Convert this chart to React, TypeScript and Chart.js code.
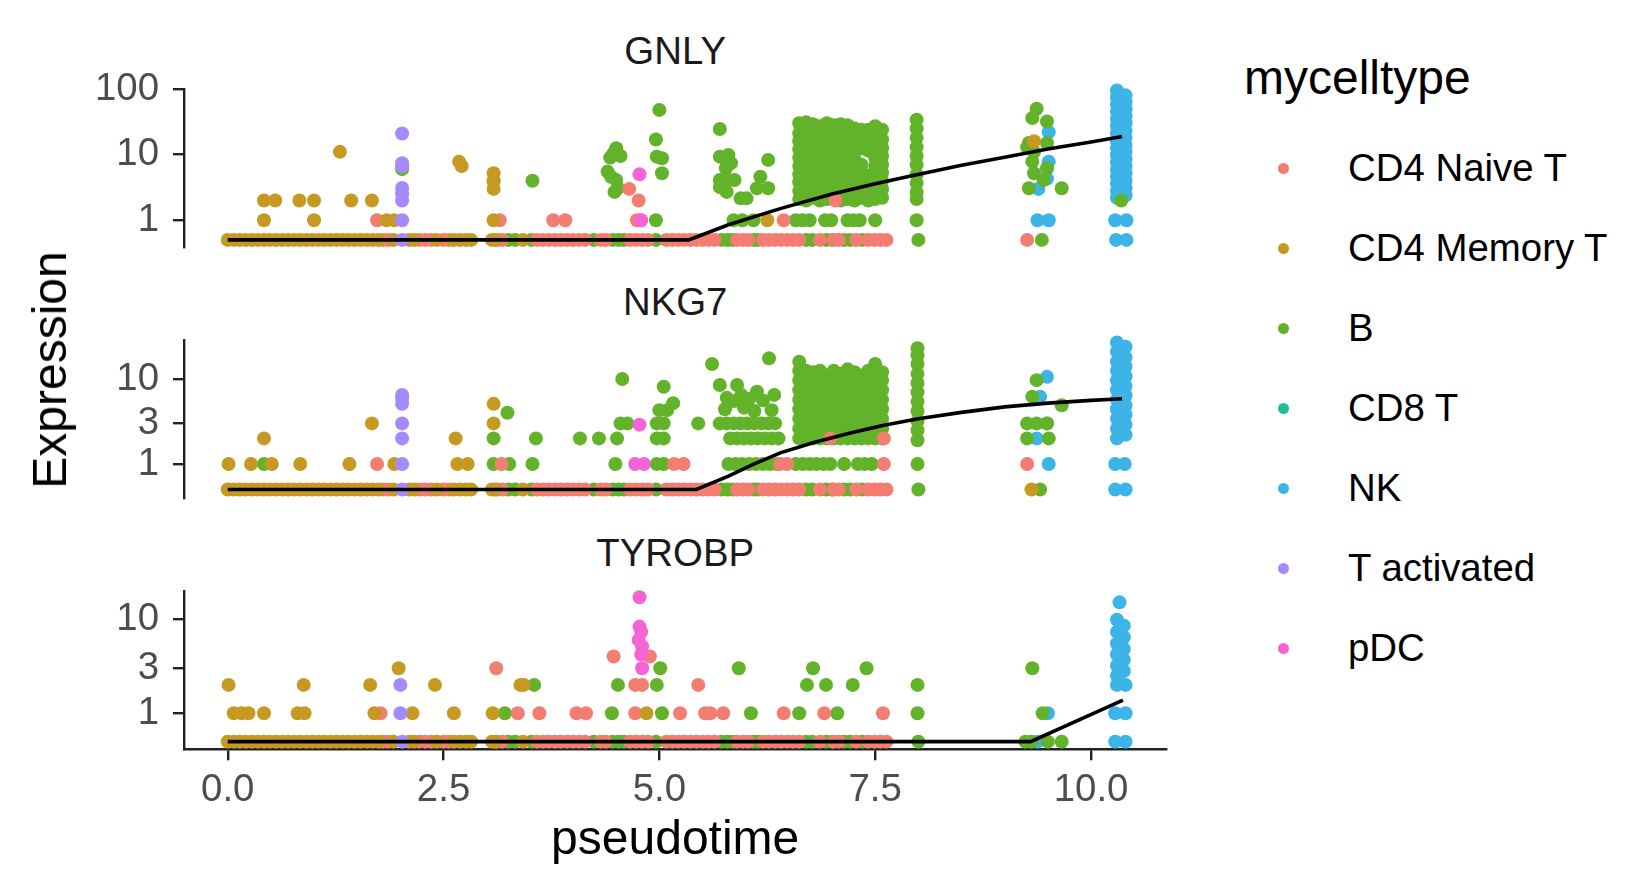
import React, { useEffect, useRef } from "react";
import { Chart, registerables } from "chart.js";

Chart.register(...registerables);

type Pt = [number, number];
type Col = [number, number[]];

// ---------------- categories / colours ----------------
const CELL_TYPES = ["CD4 Naive T", "CD4 Memory T", "B", "CD8 T", "NK", "T activated", "pDC"];
const TYPE_COLORS = ["#F27D70", "#C69A22", "#62B32A", "#1DBF96", "#3DB4E8", "#A58AFF", "#F564D6"];
// painted bottom -> top
const PAINT_ORDER = ["NK", "B", "CD8 T", "CD4 Naive T", "CD4 Memory T", "T activated", "pDC"];
const GENES = ["GNLY", "NKG7", "TYROBP"];
const X_TICKS = [0, 2.5, 5, 7.5, 10];
const Y_TICKS_GNLY = [1, 10, 100];
const Y_TICKS_NKG7 = [1, 3, 10];
const Y_TICKS_TYROBP = [1, 3, 10];
const X_RANGE = [-0.5064, 10.873];
const Y_RANGE_GNLY = [0.39, 100];
const Y_RANGE_NKG7 = [0.394, 28.8];
const Y_RANGE_TYROBP = [0.415, 19.8];
const ZERO_EXPR = 0.5;

// ---------------- zero-expression cells (pseudotime), shared by the genes ----------------
const baseNaiveT = [1.8, 1.86, 2.22, 2.29, 2.36, 2.5, 2.56, 3.12, 3.18, 3.58, 3.65, 3.72, 3.79, 3.86, 3.93, 4.0, 4.07, 4.14, 4.32, 4.38, 4.66, 4.73, 4.8, 4.87, 5.08, 5.15, 5.22, 5.29, 5.36, 5.43, 5.5, 5.57, 5.64, 5.9, 5.97, 6.03, 6.2, 6.27, 6.34, 6.41, 6.48, 6.55, 6.62, 6.86, 7.02, 7.08, 7.28, 7.42, 7.49, 7.56, 7.63];
const baseMemoryT = [0.0, 0.07, 0.14, 0.21, 0.28, 0.35, 0.42, 0.49, 0.56, 0.63, 0.7, 0.77, 0.84, 0.91, 0.98, 1.05, 1.12, 1.19, 1.26, 1.33, 1.4, 1.47, 1.54, 1.61, 1.68, 1.75, 1.92, 2.1, 2.16, 2.42, 2.62, 2.69, 2.76, 2.82, 3.06, 3.1, 3.42];
const baseB = [3.25, 3.33, 3.52, 4.24, 4.46, 4.53, 4.59, 4.96, 5.72, 5.79, 5.85, 6.09, 6.14, 6.7, 6.77, 6.93, 7.0, 7.14, 7.21, 7.35, 8.0];
const baseTact = [2.02];

// ---------------- GNLY ----------------
const gnlyZeroNaive = [9.26];
const gnlyZeroB = [9.43];
const gnlyZeroNK = [10.29, 10.41];
const gnlyNaive: Pt[] = [[1.73, 1], [3.15, 1], [3.77, 1], [3.91, 1], [4.65, 3], [4.76, 2], [4.74, 1], [4.78, 1], [6.44, 1], [7.04, 2]];
const gnlyMemory: Pt[] = [[0.42, 2], [0.55, 2], [0.42, 1], [0.83, 2], [1.0, 2], [1.0, 1], [1.3, 11], [1.43, 2], [1.67, 2], [1.84, 1], [1.93, 1], [2.68, 7.8], [2.71, 6.7], [3.08, 5.2], [3.08, 3.9], [3.08, 3], [3.08, 1], [6.25, 1], [9.34, 16]];
const gnlyTact: Pt[] = [[2.02, 21], [2.02, 7.4], [2.02, 6.6], [2.02, 3.1], [2.02, 2.5], [2.02, 2], [2.02, 1]];
const gnlyPdc: Pt[] = [[4.77, 5], [4.79, 1]];
const gnlyNK: Pt[] = [[9.51, 22], [9.51, 7.8], [9.49, 4.3], [9.39, 3], [9.38, 1], [9.51, 1], [10.28, 1], [10.41, 1]];
const gnlyNKColumns: Col[] = [
  [10.3, [2.2, 2.8, 3.6, 4.6, 5.9, 7.6, 9.8, 12.6, 16, 21, 27, 35, 45, 58, 75, 95]],
  [10.4, [2.4, 3.1, 4, 5.2, 6.7, 8.6, 11, 14, 18, 23, 30, 38, 49, 63, 80]],
];
const gnlyB: Pt[] = [
  [2.02, 6], [3.08, 4], [3.53, 4],
  [4.4, 5.5], [4.43, 9], [4.47, 10.5], [4.5, 12.5], [4.55, 9.5], [4.44, 4.6], [4.5, 4.1], [4.52, 3.1], [4.48, 2.7],
  [4.96, 17], [4.97, 9.3], [5.0, 48], [5.03, 8.8], [5.03, 5.2], [4.96, 1],
  [5.7, 24.5], [5.7, 9.3], [5.8, 9.9], [5.83, 7.4], [5.77, 6.2], [5.7, 4.1], [5.8, 4.1], [5.87, 4.1], [5.7, 3.2], [5.78, 2.7],
  [5.94, 2.15], [6.01, 2.15], [6.13, 3.06], [6.17, 4.6], [6.26, 8.3], [6.26, 3.06], [5.86, 1], [5.96, 1], [6.09, 1],
  [6.58, 1], [6.66, 1], [6.74, 1], [6.92, 1], [6.99, 1], [7.18, 1], [7.25, 1], [7.32, 1], [7.5, 1],
  [9.37, 50], [9.32, 36], [9.49, 32], [9.28, 15], [9.26, 13], [9.49, 15], [9.34, 11], [9.32, 7.8], [9.49, 6.2], [9.34, 5.2], [9.45, 4.1], [9.28, 3.06], [9.66, 3.06],
  [10.35, 2],
];
const gnlyBColumns: Col[] = [
  [6.62, [2.1, 2.8, 3.8, 5, 6.7, 9, 12, 16, 21, 30]],
  [6.7, [2, 2.7, 3.6, 4.8, 6.4, 8.6, 11.5, 15, 20, 26, 31]],
  [6.78, [2.2, 3, 4, 5.3, 7, 9.5, 12.5, 17, 22, 29]],
  [6.86, [2, 2.7, 3.6, 4.8, 6.4, 8.6, 11.5, 15, 20, 27]],
  [6.94, [2.1, 2.8, 3.8, 5, 6.7, 9, 12, 16, 21, 30]],
  [7.02, [2.2, 3, 4, 5.3, 7, 9.5, 12.5, 17, 22, 28]],
  [7.1, [2, 2.7, 3.6, 4.8, 6.4, 8.6, 11.5, 15, 20, 29]],
  [7.18, [2.1, 2.8, 3.8, 5, 6.7, 9, 12, 16, 21, 28]],
  [7.26, [2, 2.7, 3.6, 4.8, 6.4, 8.6, 11.5, 15, 20, 25]],
  [7.34, [2.2, 3, 4, 5.3, 7, 12.5, 17, 24]],
  [7.42, [2, 2.7, 3.6, 4.8, 11.5, 15, 19, 24]],
  [7.5, [2.1, 2.8, 3.8, 5, 6.7, 9, 12, 16, 21, 27]],
  [7.58, [2.2, 3, 4, 5.3, 7, 9.5, 12.5, 17, 24]],
  [7.98, [1, 2.1, 2.7, 3.7, 5, 7, 9.5, 13, 18, 25, 34]],
];
const gnlyFitT = [0, 5.34, 5.8, 6.4, 7.0, 7.5, 7.94, 8.5, 9.0, 9.5, 10.0, 10.36];
const gnlyFitV = [0.5, 0.5, 0.85, 1.5, 2.5, 3.6, 4.8, 6.9, 9.1, 12.2, 15.6, 18.9];

// ---------------- NKG7 ----------------
const nkg7ZeroMemory = [9.31];
const nkg7ZeroB = [9.41];
const nkg7ZeroNK = [10.28, 10.4];
const nkg7Naive: Pt[] = [[1.73, 1], [3.17, 1], [5.17, 1], [5.28, 1], [6.4, 1], [6.48, 1], [6.98, 2], [7.6, 2], [7.6, 1], [9.26, 1]];
const nkg7Memory: Pt[] = [[0.01, 1], [0.27, 1], [0.42, 2], [0.51, 1], [0.84, 1], [1.41, 1], [1.67, 3], [1.93, 1], [2.64, 2], [2.66, 1], [2.78, 1], [3.08, 5.1], [3.08, 3]];
const nkg7Tact: Pt[] = [[2.02, 6.5], [2.02, 5.9], [2.02, 5.1], [2.02, 3], [2.02, 2], [2.02, 1]];
const nkg7Pdc: Pt[] = [[4.77, 2.9], [4.72, 1], [4.82, 1]];
const nkg7NK: Pt[] = [[9.49, 10.6], [9.41, 6.2], [9.49, 3], [9.37, 2], [9.51, 1], [10.28, 1], [10.39, 1]];
const nkg7NKColumns: Col[] = [
  [10.3, [2, 2.6, 3.4, 4.4, 5.7, 7.4, 9.6, 12.5, 16, 21, 27]],
  [10.4, [2.2, 2.9, 3.8, 4.9, 6.4, 8.3, 10.8, 14, 18, 24]],
];
const nkg7B: Pt[] = [
  [0.42, 1], [3.08, 2], [3.08, 1], [3.26, 1], [3.24, 4], [3.57, 2], [3.53, 1], [4.08, 2], [4.3, 2], [4.51, 2], [4.49, 1], [4.57, 10], [4.55, 3], [4.63, 3],
  [5.05, 8.1], [5.16, 5.2], [5.0, 4.3], [5.09, 4.3], [4.97, 3], [5.05, 3], [4.97, 2], [5.05, 2], [4.97, 1], [5.05, 1], [5.45, 3],
  [5.61, 15], [5.7, 8.5], [5.9, 8.5], [6.13, 7.1], [6.27, 17.5], [5.78, 6], [5.86, 5.5], [5.95, 6.5], [6.04, 5.8], [6.2, 5.6], [6.33, 6.5], [5.76, 4.4], [5.98, 4.6], [6.1, 4.2], [6.3, 4.3],
  [5.7, 3], [5.78, 3], [5.86, 3], [5.94, 3], [6.02, 3], [6.1, 3], [6.18, 3], [6.26, 3], [6.34, 3],
  [5.82, 2], [5.9, 2], [5.98, 2], [6.06, 2], [6.14, 2], [6.22, 2], [6.3, 2], [6.38, 2],
  [5.8, 1], [5.88, 1], [5.96, 1], [6.04, 1], [6.12, 1], [6.2, 1], [6.28, 1], [6.36, 1],
  [6.58, 1], [6.66, 1], [6.74, 1], [6.82, 1], [6.9, 1], [6.98, 1], [7.14, 1], [7.3, 1], [7.38, 1], [7.46, 1],
  [9.37, 9.7], [9.32, 6.2], [9.66, 4.9], [9.26, 3], [9.37, 3], [9.49, 3], [9.26, 2], [9.51, 2],
];
const nkg7BColumns: Col[] = [
  [6.62, [2, 2.6, 3.4, 4.4, 5.7, 7.4, 9.6, 12.5, 16]],
  [6.7, [2, 2.6, 3.4, 4.4, 5.7, 7.4, 9.6, 12.5]],
  [6.78, [2, 2.6, 3.4, 4.4, 5.7, 7.4, 9.6, 12]],
  [6.86, [2, 2.6, 3.4, 4.4, 5.7, 7.4, 9.6, 12.5]],
  [6.94, [2, 2.6, 3.4, 4.4, 5.7, 7.4, 9.6, 11]],
  [7.02, [2, 2.6, 3.4, 4.4, 5.7, 7.4, 9.6, 12.5]],
  [7.1, [2, 2.6, 3.4, 4.4, 5.7, 7.4, 9.6, 11.5]],
  [7.18, [2, 2.6, 3.4, 4.4, 5.7, 7.4, 9.6, 13]],
  [7.26, [2, 2.6, 3.4, 4.4, 5.7, 7.4, 9.6, 12]],
  [7.34, [2, 2.6, 3.4, 4.4, 5.7, 7.4, 9.6, 11]],
  [7.42, [2, 2.6, 3.4, 4.4, 5.7, 7.4, 9.6, 12.5]],
  [7.5, [2, 2.6, 3.4, 4.4, 5.7, 7.4, 9.6, 12.5, 15]],
  [7.58, [2, 2.6, 3.4, 4.4, 5.7, 7.4, 9.6, 12]],
  [7.99, [1, 1.9, 2.5, 3.2, 4.2, 5.4, 7, 9, 11.5, 15, 19, 23]],
];
const nkg7FitT = [0, 5.43, 5.8, 6.1, 6.4, 6.8, 7.2, 7.6, 8.0, 8.5, 9.0, 9.5, 10.0, 10.36];
const nkg7FitV = [0.5, 0.5, 0.72, 1.0, 1.35, 1.8, 2.3, 2.85, 3.4, 4.05, 4.7, 5.2, 5.6, 5.85];

// ---------------- TYROBP ----------------
const tyrobpZeroB = [9.24, 9.31, 9.5, 9.66];
const tyrobpZeroNK = [9.38, 10.28, 10.4];
const tyrobpNaive: Pt[] = [[1.77, 1], [3.11, 3], [3.36, 1], [3.61, 1], [4.04, 1], [4.15, 1], [4.47, 4], [4.89, 4], [4.72, 2], [4.8, 2], [4.72, 1], [5.24, 1], [5.45, 2], [5.53, 1], [5.59, 1], [5.74, 1], [6.44, 1], [6.91, 1], [7.59, 1]];
const tyrobpMemory: Pt[] = [[0.01, 2], [0.07, 1], [0.16, 1], [0.24, 1], [0.42, 1], [0.88, 2], [0.81, 1], [0.89, 1], [1.65, 2], [1.7, 1], [1.98, 3], [2.14, 1], [2.4, 2], [2.62, 1], [3.07, 1], [3.39, 2], [3.43, 2], [4.85, 1]];
const tyrobpTact: Pt[] = [[2.0, 2], [2.0, 1]];
const tyrobpPdc: Pt[] = [[4.77, 17], [4.77, 8.3], [4.79, 7.3], [4.76, 6], [4.8, 5.1], [4.79, 4.2], [4.8, 3]];
const tyrobpNK: Pt[] = [[9.5, 1], [10.33, 15], [10.3, 9.8], [10.38, 8.5], [10.3, 7.3], [10.38, 6.4], [10.3, 5.5], [10.38, 4.8], [10.3, 4.2], [10.38, 3.7], [10.3, 3.2], [10.38, 2.8], [10.3, 2.5], [10.3, 2], [10.4, 2], [10.28, 1], [10.4, 1]];
const tyrobpB: Pt[] = [[3.21, 1], [3.55, 2], [4.45, 1], [4.52, 2], [4.97, 2], [5.01, 3], [5.03, 1], [5.92, 3], [6.06, 1], [6.62, 1], [6.71, 2], [6.78, 3], [6.93, 2], [7.06, 1], [7.24, 2], [7.4, 3], [7.99, 2], [7.99, 1], [9.32, 3], [9.44, 1]];
const tyrobpFitT = [0, 9.3, 10.37];
const tyrobpFitV = [0.5, 0.5, 1.38];

// ---------------- helpers ----------------
const FONT = "'Liberation Sans', Arial, Helvetica, sans-serif";
const zeroPts = (ts: number[]): Pt[] => ts.map((t) => [t, ZERO_EXPR] as Pt);
const colPts = (cols: Col[]): Pt[] => cols.flatMap(([t, vs]) => vs.map((v) => [t, v] as Pt));

const SERIES: Record<string, Pt[]>[] = [
  {
    "CD4 Naive T": [...zeroPts(baseNaiveT), ...zeroPts(gnlyZeroNaive), ...gnlyNaive],
    "CD4 Memory T": [...zeroPts(baseMemoryT), ...gnlyMemory],
    B: [...zeroPts(baseB), ...zeroPts(gnlyZeroB), ...gnlyB, ...colPts(gnlyBColumns)],
    "CD8 T": [],
    NK: [...zeroPts(gnlyZeroNK), ...gnlyNK, ...colPts(gnlyNKColumns)],
    "T activated": [...zeroPts(baseTact), ...gnlyTact],
    pDC: gnlyPdc,
  },
  {
    "CD4 Naive T": [...zeroPts(baseNaiveT), ...nkg7Naive],
    "CD4 Memory T": [...zeroPts(baseMemoryT), ...zeroPts(nkg7ZeroMemory), ...nkg7Memory],
    B: [...zeroPts(baseB), ...zeroPts(nkg7ZeroB), ...nkg7B, ...colPts(nkg7BColumns)],
    "CD8 T": [],
    NK: [...zeroPts(nkg7ZeroNK), ...nkg7NK, ...colPts(nkg7NKColumns)],
    "T activated": [...zeroPts(baseTact), ...nkg7Tact],
    pDC: nkg7Pdc,
  },
  {
    "CD4 Naive T": [...zeroPts(baseNaiveT), ...tyrobpNaive],
    "CD4 Memory T": [...zeroPts(baseMemoryT), ...tyrobpMemory],
    B: [...zeroPts(baseB), ...zeroPts(tyrobpZeroB), ...tyrobpB],
    "CD8 T": [],
    NK: [...zeroPts(tyrobpZeroNK), ...tyrobpNK],
    "T activated": [...zeroPts(baseTact), ...tyrobpTact],
    pDC: tyrobpPdc,
  },
];
const FITS: [number[], number[]][] = [
  [gnlyFitT, gnlyFitV],
  [nkg7FitT, nkg7FitV],
  [tyrobpFitT, tyrobpFitV],
];
const Y_TICKS = [Y_TICKS_GNLY, Y_TICKS_NKG7, Y_TICKS_TYROBP];
const Y_RANGES = [Y_RANGE_GNLY, Y_RANGE_NKG7, Y_RANGE_TYROBP];

// ---------------- layout (page pixels) ----------------
const PAGE_W = 1626;
const PAGE_H = 890;
const CANVAS_W = 1180;
const AXIS_LEFT = 184;
const AXIS_RIGHT = 1166.4;
const PANEL_TOPS = [89, 340, 591];
const PANEL_BOTTOMS = [247, 498.3, 749.3];
const MARGIN = 50;
const X_AXIS_H = 60;
const LEGEND_Y = [168, 248, 328, 408, 488, 568, 648];
const AXIS_COLOR = "#222222";
const TICK_TEXT = "#4D4D4D";
const POINT_R = 7;

function Panel({ idx }: { idx: number }) {
  const ref = useRef<HTMLCanvasElement | null>(null);
  const isBottom = idx === 2;
  const top = PANEL_TOPS[idx];
  const bottom = PANEL_BOTTOMS[idx];
  const canvasTop = top - MARGIN;
  const canvasH = isBottom ? PAGE_H - canvasTop : Math.ceil(bottom - top + 2 * MARGIN);
  const padBottom = isBottom ? canvasH - MARGIN - (bottom - top) - X_AXIS_H : canvasH - MARGIN - (bottom - top);

  useEffect(() => {
    const canvas = ref.current;
    if (!canvas) return;
    const series = SERIES[idx];
    const [ft, fv] = FITS[idx];
    // Chart.js paints the first dataset on top, so the fit line comes first
    // and the cell types follow in reverse paint order.
    const datasets: any[] = [
      {
        label: "fit",
        data: ft.map((t, i) => ({ x: t, y: fv[i] })),
        showLine: true,
        borderColor: "#000000",
        backgroundColor: "#000000",
        borderWidth: 3.6,
        pointRadius: 0,
        pointHoverRadius: 0,
        tension: 0,
        fill: false,
        clip: false,
      },
    ];
    [...PAINT_ORDER].reverse().forEach((name) => {
      const color = TYPE_COLORS[CELL_TYPES.indexOf(name)];
      datasets.push({
        label: name,
        data: series[name].map(([x, y]) => ({ x, y })),
        backgroundColor: color,
        pointBackgroundColor: color,
        borderColor: color,
        pointBorderWidth: 0,
        borderWidth: 0,
        pointRadius: POINT_R,
        pointHoverRadius: POINT_R,
        showLine: false,
        clip: false,
      });
    });

    const tickFont = { family: FONT, size: 38.4 };
    const chart = new Chart(canvas, {
      type: "scatter",
      data: { datasets },
      options: {
        animation: false,
        responsive: false,
        devicePixelRatio: 1,
        events: [],
        layout: { padding: { left: 0, right: CANVAS_W - AXIS_RIGHT, top: MARGIN, bottom: padBottom } },
        plugins: { legend: { display: false }, tooltip: { enabled: false }, title: { display: false } },
        scales: {
          x: {
            type: "linear",
            display: isBottom,
            min: X_RANGE[0],
            max: X_RANGE[1],
            bounds: "data",
            afterBuildTicks: (s: any) => {
              s.ticks = X_TICKS.map((v) => ({ value: v }));
            },
            afterFit: (s: any) => {
              s.height = isBottom ? X_AXIS_H : 0;
            },
            ticks: {
              autoSkip: false,
              maxRotation: 0,
              minRotation: 0,
              padding: 7,
              color: TICK_TEXT,
              font: tickFont,
              callback: (v: any) => Number(v).toFixed(1),
            },
            grid: { drawOnChartArea: false, drawTicks: true, tickLength: 11, color: AXIS_COLOR, lineWidth: 2.4 },
            border: { display: true, color: AXIS_COLOR, width: 2.4 },
            title: { display: false },
          },
          y: {
            type: "logarithmic",
            min: Y_RANGES[idx][0],
            max: Y_RANGES[idx][1],
            bounds: "data",
            afterBuildTicks: (s: any) => {
              s.ticks = Y_TICKS[idx].map((v) => ({ value: v }));
            },
            afterFit: (s: any) => {
              s.width = AXIS_LEFT;
            },
            ticks: {
              autoSkip: false,
              padding: 14,
              color: TICK_TEXT,
              font: tickFont,
              callback: (v: any) => String(v),
            },
            grid: { drawOnChartArea: false, drawTicks: true, tickLength: 11, color: AXIS_COLOR, lineWidth: 2.4 },
            border: { display: true, color: AXIS_COLOR, width: 2.4 },
          },
        },
      } as any,
    });
    return () => chart.destroy();
  }, [idx]);

  return (
    <canvas
      ref={ref}
      width={CANVAS_W}
      height={canvasH}
      style={{ position: "absolute", left: 0, top: canvasTop, width: CANVAS_W, height: canvasH }}
    />
  );
}

export default function App() {
  const stripBase = PANEL_TOPS.map((t) => t - 25);
  return (
    <div
      style={{
        position: "absolute",
        left: 0,
        top: 0,
        width: PAGE_W,
        height: PAGE_H,
        background: "#ffffff",
        overflow: "hidden",
        fontFamily: FONT,
      }}
    >
      {GENES.map((g, i) => (
        <div
          key={g}
          style={{
            position: "absolute",
            left: (AXIS_LEFT + AXIS_RIGHT) / 2,
            top: stripBase[i] - 32.5,
            transform: "translateX(-50%)",
            fontSize: 38.4,
            lineHeight: "38.4px",
            color: "#1A1A1A",
            whiteSpace: "nowrap",
          }}
        >
          {g}
        </div>
      ))}
      {[0, 1, 2].map((i) => (
        <Panel key={i} idx={i} />
      ))}
      <div
        style={{
          position: "absolute",
          left: 50,
          top: 370,
          transform: "translate(-50%, -50%) rotate(-90deg)",
          fontSize: 48,
          lineHeight: "48px",
          color: "#000",
          whiteSpace: "nowrap",
        }}
      >
        Expression
      </div>
      <div
        style={{
          position: "absolute",
          left: (AXIS_LEFT + AXIS_RIGHT) / 2,
          top: 814,
          transform: "translateX(-50%)",
          fontSize: 48,
          lineHeight: "48px",
          color: "#000",
          whiteSpace: "nowrap",
        }}
      >
        pseudotime
      </div>
      <div
        style={{
          position: "absolute",
          left: 1244,
          top: 54,
          fontSize: 48,
          lineHeight: "48px",
          color: "#000",
          whiteSpace: "nowrap",
        }}
      >
        mycelltype
      </div>
      {CELL_TYPES.map((name, i) => (
        <React.Fragment key={name}>
          <div
            style={{
              position: "absolute",
              left: 1283 - 5.5,
              top: LEGEND_Y[i] - 5.5,
              width: 11,
              height: 11,
              borderRadius: "50%",
              background: TYPE_COLORS[i],
            }}
          />
          <div
            style={{
              position: "absolute",
              left: 1348,
              top: LEGEND_Y[i] - 19.2,
              fontSize: 38.4,
              lineHeight: "38.4px",
              color: "#000",
              whiteSpace: "nowrap",
            }}
          >
            {name}
          </div>
        </React.Fragment>
      ))}
    </div>
  );
}
